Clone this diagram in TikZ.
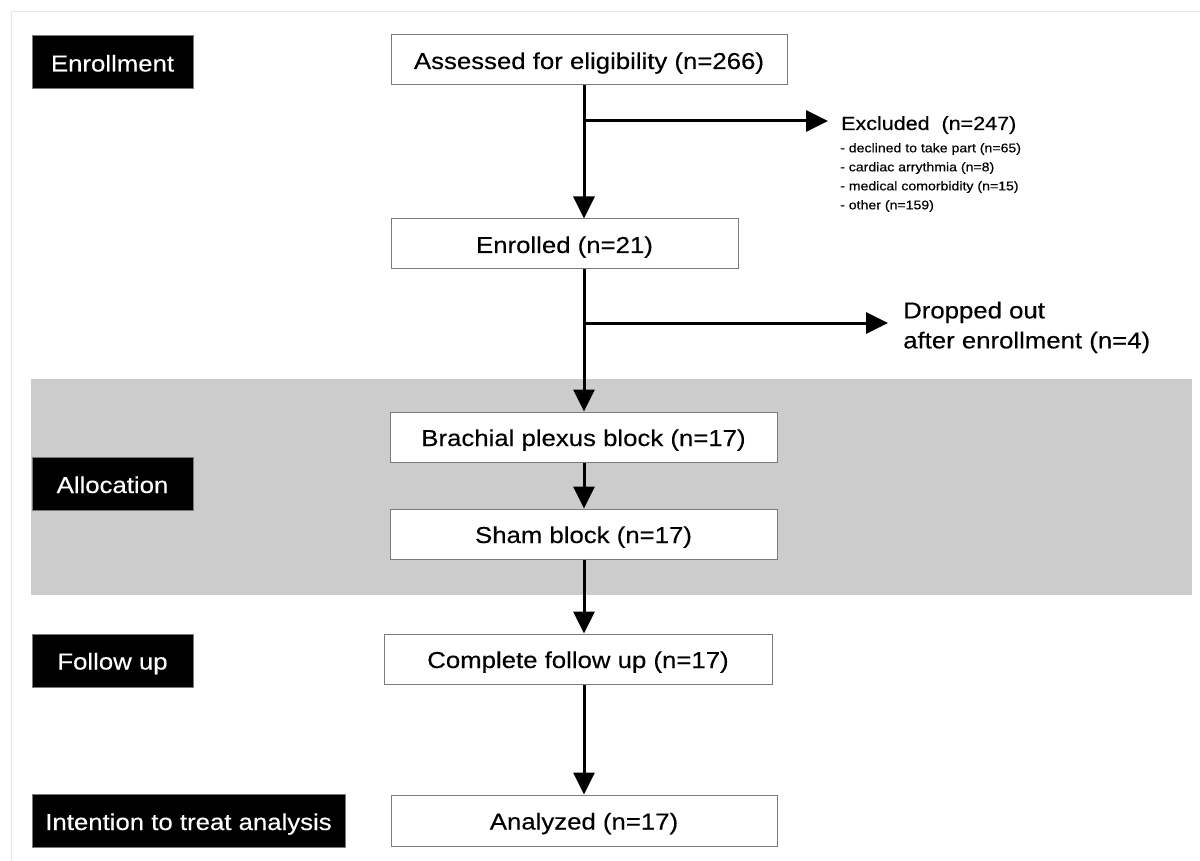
\documentclass[tikz,border=0pt]{standalone}
\usepackage{fontspec}
\setmainfont{Liberation Sans}[FakeStretch=1.12,FakeBold=0.3]
\usetikzlibrary{arrows.meta,calc}
\definecolor{band}{HTML}{CCCCCC}
\definecolor{frm}{HTML}{E6E6E6}
\definecolor{bord}{HTML}{7A7A7A}
\begin{document}
\begin{tikzpicture}[x=1pt,y=-1pt,
  box/.style={draw=bord, line width=1pt, fill=white, minimum height=50pt, inner sep=0pt, text height=21pt, text depth=3pt, font=\fontsize{23}{27}\selectfont},
  lab/.style={draw=bord, line width=1pt, fill=black, text=white, minimum height=53pt, inner sep=0pt, text height=21pt, text depth=3pt, font=\fontsize{23}{27}\selectfont},
  arr/.style={line width=3pt, -{Triangle[length=22pt,width=21pt]}},
  side/.style={inner sep=0pt, align=left}]
\useasboundingbox (0,0) rectangle (1200,861);
\fill[white] (0,0) rectangle (1200,861);
\draw[frm, line width=1pt] (11,861) -- (11,12) -- (1200,12);
\fill[band] (31,379) rectangle (1192,595);

\node[box, minimum width=396pt] (assess) at (589,60) {Assessed for eligibility (n=266)};
\node[box, minimum width=347pt] (enrol) at (564.5,244) {Enrolled (n=21)};
\node[box, minimum width=387pt] (brach) at (583.5,437) {Brachial plexus block (n=17)};
\node[box, minimum width=387pt] (sham) at (583.5,534) {Sham block (n=17)};
\node[box, minimum width=388pt] (follow) at (578,659) {Complete follow up (n=17)};
\node[box, minimum width=386pt, minimum height=51pt] (anal) at (584,820.5) {Analyzed (n=17)};

\node[lab, minimum width=161pt] (l1) at (112.5,62.5) {Enrollment};
\node[lab, minimum width=161pt] (l2) at (112.5,484) {Allocation};
\node[lab, minimum width=161pt] (l3) at (112.5,660.5) {Follow up};
\node[lab, minimum width=313pt] (l4) at (188.5,821) {Intention to treat analysis};

\node[side, anchor=base west, font=\fontsize{19.2}{24}\selectfont] (excl) at (841,130) {Excluded\ \ (n=247)};
\node[side, anchor=north west, font=\fontsize{12.6}{19}\selectfont] (exsub) at (840,143) {- declined to take part (n=65)\\- cardiac arrythmia (n=8)\\- medical comorbidity (n=15)\\- other (n=159)};
\node[side, anchor=north west, font=\fontsize{23}{30}\selectfont] (drop) at (903,301.5) {Dropped out\\after enrollment (n=4)};

\coordinate (sp) at (584,0);
\coordinate (b1) at (584,121);
\coordinate (b2) at (584,323);

\draw[arr] (assess.south -| sp) -- (enrol.north -| sp);
\draw[arr] (b1) -- ($(excl.west |- b1)+(-13,0)$);
\draw[arr] (enrol.south -| sp) -- (brach.north -| sp);
\draw[arr] (b2) -- ($(drop.west |- b2)+(-15,0)$);
\draw[arr] (brach.south -| sp) -- (sham.north -| sp);
\draw[arr] (sham.south -| sp) -- (follow.north -| sp);
\draw[arr] (follow.south -| sp) -- (anal.north -| sp);
\end{tikzpicture}
\end{document}
